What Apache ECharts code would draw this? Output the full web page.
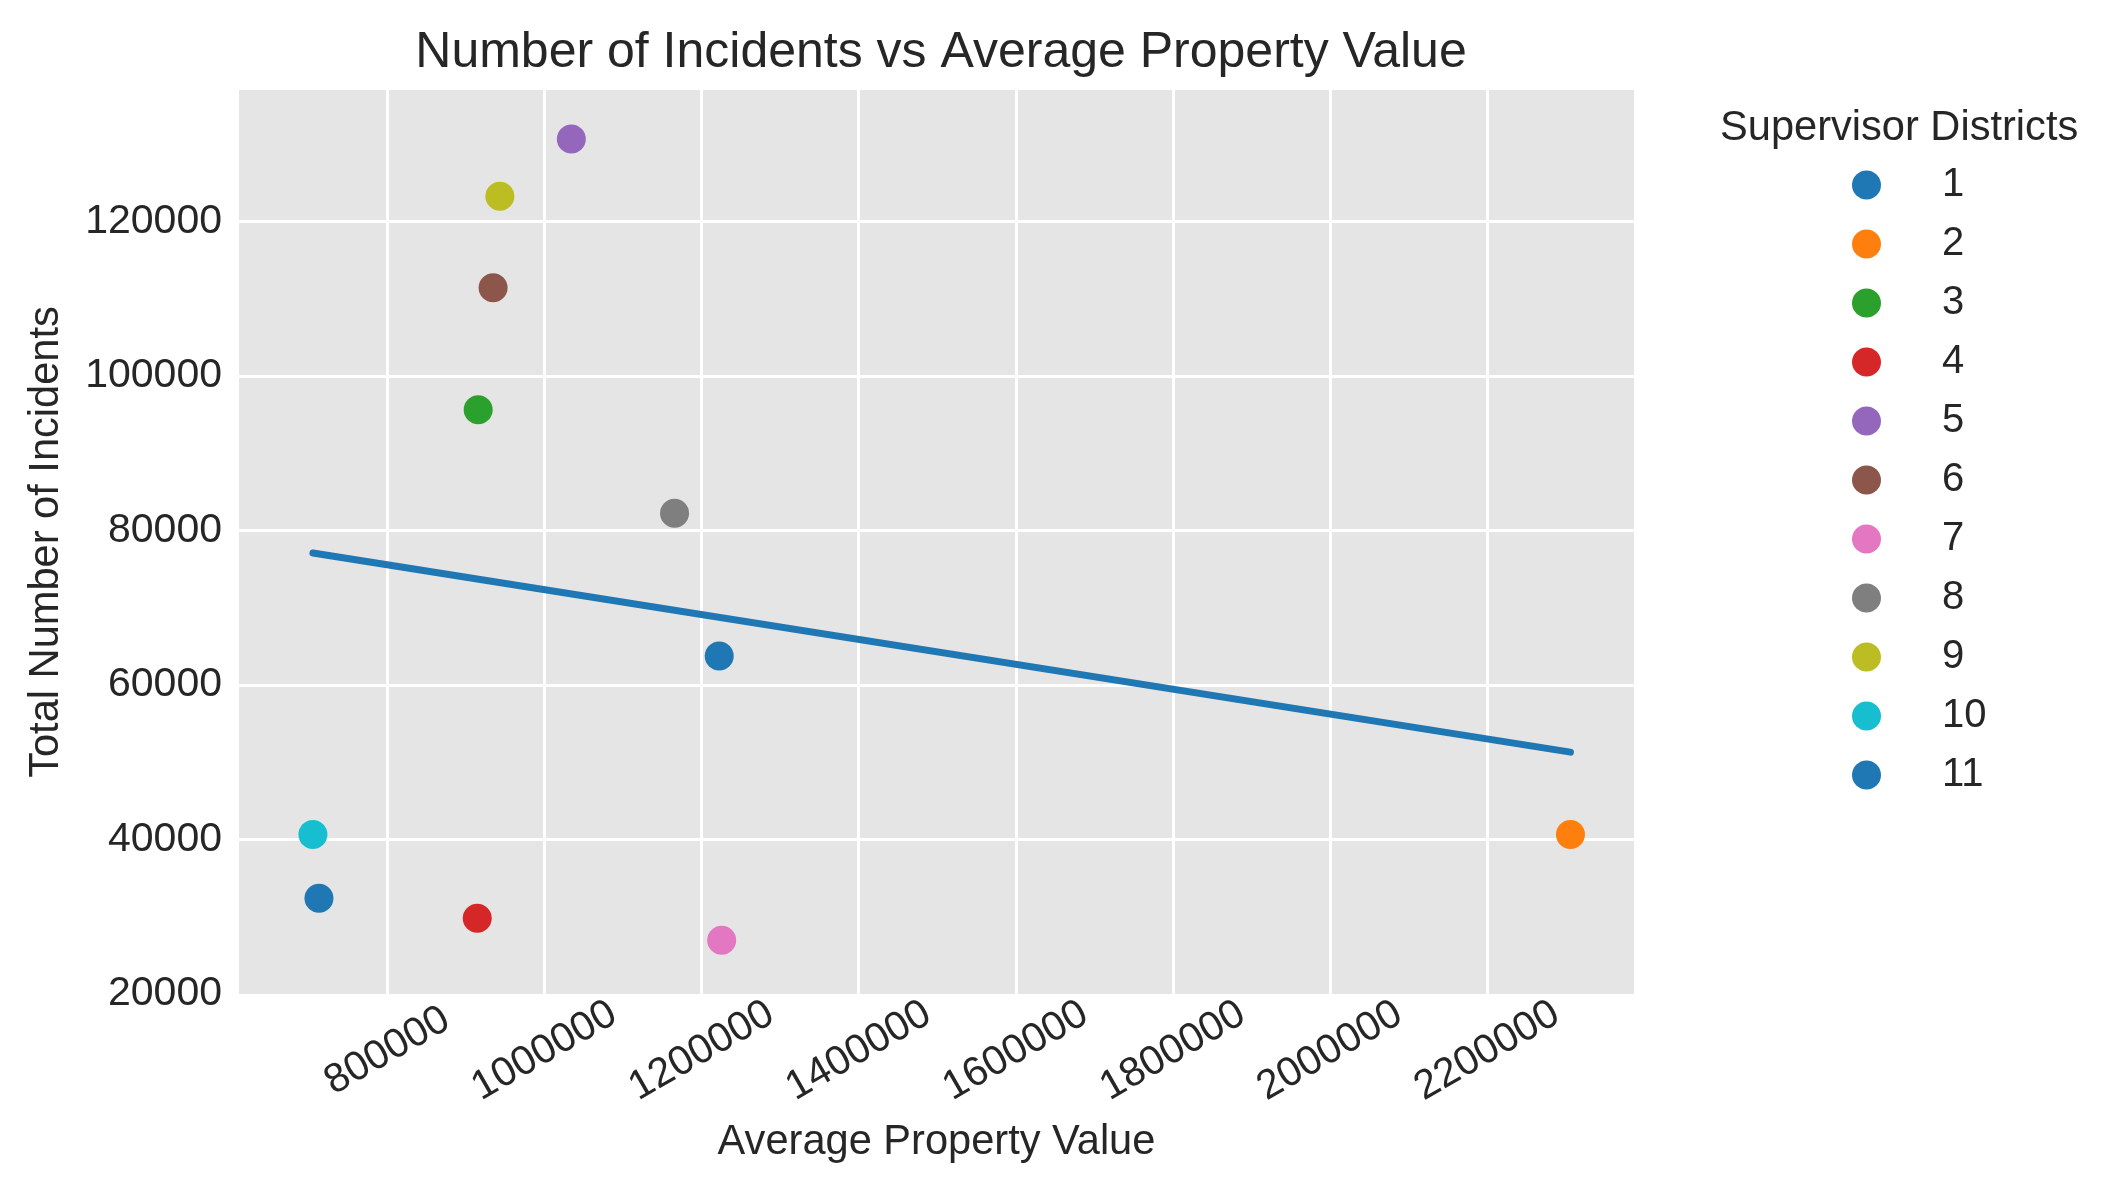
<!DOCTYPE html>
<html>
<head>
<meta charset="utf-8">
<script src="https://cdn.jsdelivr.net/npm/echarts@6/dist/echarts.min.js"></script>
<style>
  html, body { margin: 0; padding: 0; background: #fff; }
  #chart { width: 2125px; height: 1199px; }
</style>
</head>
<body>
<div id="chart"></div>
<script>
// one point per supervisor district
const districts = ['1', '2', '3', '4', '5', '6', '7', '8', '9', '10', '11'];
const propertyValues = [1222400, 2306100, 915500, 914300, 1034100, 934500, 1225500, 1165500, 943100, 705100, 712800];
const incidents = [63760, 40645, 95630, 29806, 130645, 111420, 26968, 82210, 123260, 40645, 32387];

// fitted trend line, endpoints
const trendX = [705100, 2306100];
const trendY = [77070, 51300];

const xTicks = [800000, 1000000, 1200000, 1400000, 1600000, 1800000, 2000000, 2200000];
const colors = ['#1f77b4', '#ff7f0e', '#2ca02c', '#d62728', '#9467bd', '#8c564b',
  '#e377c2', '#7f7f7f', '#bcbd22', '#17becf', '#1f77b4'];

const font = '"Liberation Sans", Arial, sans-serif';
const ink = '#262626';
const plain = v => String(v);

const chart = echarts.init(document.getElementById('chart'));

const scatterSeries = districts.map((d, i) => ({
  name: d,
  type: 'scatter',
  symbol: 'circle',
  symbolSize: 29,
  itemStyle: { color: colors[i], opacity: 1 },
  data: [[propertyValues[i], incidents[i]]],
  z: 3
}));

chart.setOption({
  animation: false,
  backgroundColor: '#ffffff',
  textStyle: { fontFamily: font, color: ink },
  title: [
    {
      text: 'Number of Incidents vs Average Property Value',
      left: 936,
      top: 23,
      textAlign: 'center',
      textStyle: { fontFamily: font, fontSize: 50, fontWeight: 'normal', color: ink }
    },
    {
      text: 'Supervisor Districts',
      left: 1715,
      top: 103,
      textStyle: { fontFamily: font, fontSize: 41.6, fontWeight: 'normal', color: ink }
    }
  ],
  legend: {
    orient: 'vertical',
    left: 1847,
    top: 160,
    itemWidth: 29,
    itemHeight: 29,
    itemGap: 19,
    icon: 'circle',
    data: districts,
    textStyle: {
      fontFamily: font,
      fontSize: 40,
      color: ink,
      padding: [0, 0, 0, 56]
    }
  },
  grid: {
    left: 239,
    right: 491,
    top: 90,
    bottom: 205,
    show: true,
    backgroundColor: '#e5e5e5',
    borderWidth: 0,
    containLabel: false
  },
  xAxis: {
    type: 'value',
    min: 611000,
    max: 2387000,
    name: 'Average Property Value',
    nameLocation: 'middle',
    nameGap: 128,
    nameTextStyle: { fontFamily: font, fontSize: 41.6, color: ink },
    axisLine: { show: false },
    axisTick: { show: false, customValues: xTicks },
    axisLabel: {
      customValues: xTicks,
      formatter: plain,
      rotate: 30,
      align: 'center',
      verticalAlign: 'middle',
      margin: 57,
      fontFamily: font,
      fontSize: 41,
      color: ink
    },
    splitLine: { show: true, lineStyle: { color: '#ffffff', width: 3 } }
  },
  yAxis: {
    type: 'value',
    min: 20000,
    max: 137000,
    interval: 20000,
    name: 'Total Number of Incidents',
    nameLocation: 'middle',
    nameGap: 171,
    nameTextStyle: { fontFamily: font, fontSize: 41.6, color: ink },
    axisLine: { show: false },
    axisTick: { show: false },
    axisLabel: {
      formatter: plain,
      showMaxLabel: false,
      margin: 17,
      fontFamily: font,
      fontSize: 41,
      color: ink
    },
    splitLine: {
      show: true,
      showMinLine: false,
      showMaxLine: false,
      lineStyle: { color: '#ffffff', width: 3 }
    }
  },
  series: [
    {
      name: 'trend',
      type: 'line',
      data: trendX.map((x, i) => [x, trendY[i]]),
      symbol: 'none',
      lineStyle: { color: '#1f77b4', width: 7, cap: 'round' },
      z: 2
    }
  ].concat(scatterSeries)
});
</script>
</body>
</html>
